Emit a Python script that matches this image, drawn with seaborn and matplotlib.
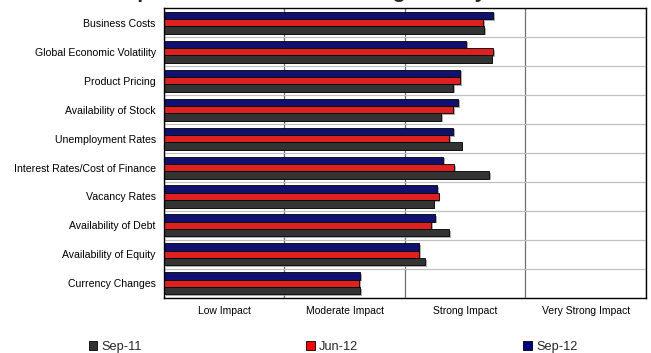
import matplotlib
matplotlib.use("Agg")
import matplotlib.pyplot as plt
import matplotlib.patheffects as pe
from matplotlib.patches import Patch
import seaborn as sns
import pandas as pd

categories = [
    "Business Costs",
    "Global Economic Volatility",
    "Product Pricing",
    "Availability of Stock",
    "Unemployment Rates",
    "Interest Rates/Cost of Finance",
    "Vacancy Rates",
    "Availability of Debt",
    "Availability of Equity",
    "Currency Changes",
]
sep_11 = [2.66, 2.72, 2.40, 2.30, 2.47, 2.70, 2.24, 2.37, 2.17, 1.63]
jun_12 = [2.65, 2.73, 2.46, 2.40, 2.37, 2.41, 2.28, 2.22, 2.12, 1.62]
sep_12 = [2.73, 2.51, 2.46, 2.44, 2.40, 2.32, 2.27, 2.25, 2.12, 1.63]
impact_labels = ["Low Impact", "Moderate Impact", "Strong Impact", "Very Strong Impact"]
series_names = ["Sep-11", "Jun-12", "Sep-12"]
colors = {"Sep-11": "#333333", "Jun-12": "#FF0000", "Sep-12": "#000080"}

rows = []
for name, vals in zip(series_names, [sep_11, jun_12, sep_12]):
    for cat, v in zip(categories, vals):
        rows.append({"factor": cat, "period": name, "score": v})
df = pd.DataFrame(rows)

sns.set_theme(style="white")
plt.rcParams["font.family"] = ["Liberation Sans", "DejaVu Sans"]

fig = plt.figure(figsize=(6.51, 3.53), dpi=100)
ax = fig.add_axes([0.252, 0.156, 0.740, 0.821])

sns.barplot(
    data=df, y="factor", x="score", hue="period",
    order=categories, hue_order=["Sep-12", "Jun-12", "Sep-11"],
    palette=colors, orient="h", width=0.76,
    edgecolor="black", linewidth=0.6, legend=False, ax=ax,
)

shadow = [pe.SimplePatchShadow(offset=(1.2, -1.2), shadow_rgbFace="#9a9a9a", alpha=0.8), pe.Normal()]
for p in ax.patches:
    p.set_path_effects(shadow)

ax.set_xlim(0, 4)
ax.set_ylim(len(categories) - 0.5, -0.5)
ax.set_xlabel("")
ax.set_ylabel("")

# vertical gridlines at band edges, labels centred in each band
ax.set_xticks([0, 1, 2, 3, 4])
ax.set_xticklabels([])
ax.set_xticks([0.5, 1.5, 2.5, 3.5], minor=True)
ax.set_xticklabels(impact_labels, minor=True)
ax.tick_params(axis="x", which="major", length=3, width=0.8, color="black", direction="out")
ax.tick_params(axis="x", which="minor", length=0, pad=6, labelsize=7.5, colors="black")
ax.xaxis.grid(True, which="major", color="#6e6e6e", linewidth=0.9)

# light separators between factor groups
ax.set_yticks([i + 0.5 for i in range(len(categories) - 1)], minor=True)
ax.yaxis.grid(True, which="minor", color="#c0c0c0", linewidth=0.9)
ax.tick_params(axis="y", which="both", length=0, pad=6, labelsize=7.6, colors="black")
ax.set_axisbelow(True)

for s in ax.spines.values():
    s.set_visible(True)
    s.set_color("black")
    s.set_linewidth(1.0)

handles = [Patch(facecolor=colors[n], edgecolor="black", linewidth=0.6) for n in series_names]
fig.legend(
    handles, series_names, loc="center", bbox_to_anchor=(333 / 651, 0.017),
    ncol=3, frameon=False, fontsize=9.2, handlelength=0.7, handleheight=0.7,
    handletextpad=0.3, columnspacing=12.9, borderaxespad=0, borderpad=0,
)

# title sits above the top edge; only its descenders reach into the figure
fig.text(300 / 651, 1.0 + 2.5 / 353, "Impact of Factors on Lending Activity",
         ha="center", va="baseline", fontsize=15, fontweight="bold")

fig.savefig("out.png", dpi=100)
